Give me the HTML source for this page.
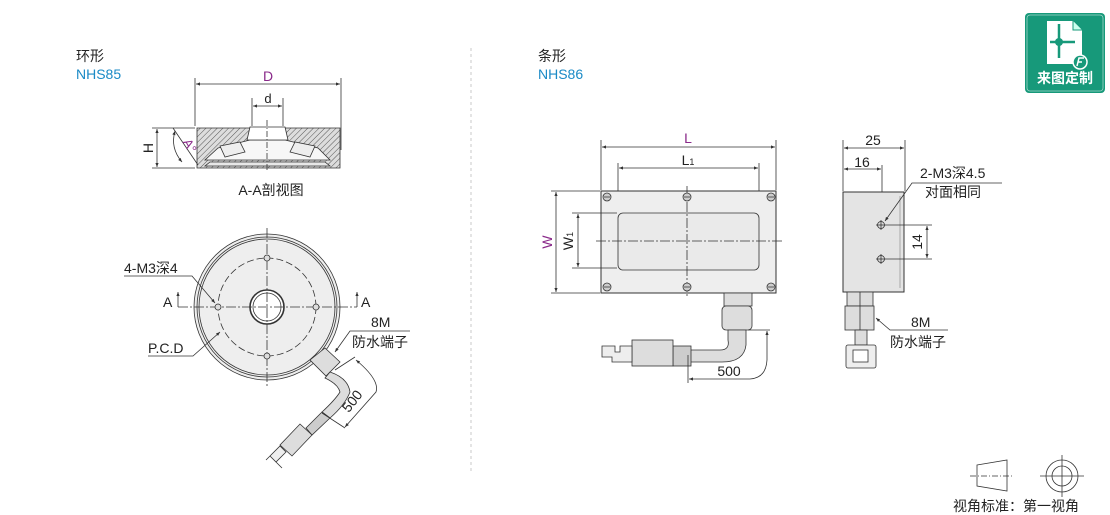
<!DOCTYPE html>
<html><head><meta charset="utf-8"><style>
html,body{margin:0;padding:0;background:#fff;}
svg{display:block;}
text{font-family:"Liberation Sans","Noto Sans CJK SC",sans-serif;fill:#222;}
</style></head><body>
<svg width="1110" height="515" viewBox="0 0 1110 515" xmlns="http://www.w3.org/2000/svg">
<defs>
<marker id="ar" viewBox="0 0 10 10" refX="10" refY="5" markerWidth="7" markerHeight="5" orient="auto-start-reverse"><path d="M0,1 L10,5 L0,9 z" fill="#333"/></marker>
<pattern id="hatch" width="4" height="4" patternUnits="userSpaceOnUse" patternTransform="rotate(45)"><rect width="4" height="4" fill="#ddd"/><line x1="0" y1="0" x2="0" y2="4" stroke="#555" stroke-width="1"/></pattern>
</defs>
<g stroke="#333" fill="none" stroke-width="0.8">

<line x1="471" y1="48" x2="471" y2="472" stroke="#bbb" stroke-dasharray="3,3"/>

<!-- Section view -->
<line x1="195" y1="78" x2="195" y2="126"/><line x1="341" y1="78" x2="341" y2="150"/>
<line x1="196" y1="84" x2="340" y2="84" marker-start="url(#ar)" marker-end="url(#ar)"/>
<line x1="252" y1="98" x2="252" y2="126"/><line x1="283" y1="98" x2="283" y2="126"/>
<line x1="253" y1="106" x2="282" y2="106" marker-start="url(#ar)" marker-end="url(#ar)"/>
<path d="M197,128 L340,128 L340,168 L197,168 Z" fill="url(#hatch)" stroke="#333"/>
<path d="M218,148 L250,140 L285,140 L318,148 L330,160 L205,160 Z" fill="#f7f7f7"/>
<path d="M250,127 L285,127 L288,140 L247,140 Z" fill="#fff"/>
<path d="M210,162 L325,162 L330,166 L205,166 Z" fill="#e8e8e8"/>
<path d="M220,146 L240,142 L245,152 L225,157 Z" fill="#eee"/>
<path d="M315,146 L295,142 L290,152 L310,157 Z" fill="#eee"/>
<line x1="267" y1="120" x2="267" y2="172" stroke-dasharray="6,2,1,2"/>
<line x1="152" y1="128" x2="195" y2="128"/><line x1="152" y1="168" x2="195" y2="168"/>
<line x1="157" y1="129" x2="157" y2="167" marker-start="url(#ar)" marker-end="url(#ar)"/>
<path d="M175,131 Q170,148 182,162" marker-start="url(#ar)" marker-end="url(#ar)"/>
<line x1="173" y1="128" x2="198" y2="165"/>

<!-- Circle view -->
<circle cx="267" cy="307" r="73" fill="#eee"/>
<circle cx="267" cy="307" r="70"/><circle cx="267" cy="307" r="68"/>
<circle cx="267" cy="307" r="49" stroke-dasharray="7,3"/>
<circle cx="267" cy="307" r="17" fill="#fff" stroke-width="1.6"/>
<circle cx="267" cy="307" r="14"/>
<line x1="267" y1="228" x2="267" y2="386" stroke-dasharray="10,2,2,2"/>
<line x1="178" y1="307" x2="357" y2="307" stroke-dasharray="10,2,2,2"/>
<g fill="#ddd"><circle cx="267" cy="258" r="3"/><circle cx="218" cy="307" r="3"/><circle cx="316" cy="307" r="3"/><circle cx="267" cy="356" r="3"/></g>
<line x1="178" y1="307" x2="178" y2="292" marker-end="url(#ar)"/>
<line x1="357" y1="307" x2="357" y2="292" marker-end="url(#ar)"/>
<polyline points="124,276 192,276 215,303" marker-end="url(#ar)"/>
<polyline points="148,356 193,356 220,332" marker-end="url(#ar)"/>
<polyline points="410,331 350,331 335,352" marker-end="url(#ar)"/>
<path d="M310,360 L325,348 L340,362 L326,376 Z" fill="#ddd"/>
<path d="M330,372 Q348,378 350,392 Q345,405 330,418 L322,412 Q335,400 340,392 Q338,384 325,378 Z" fill="#ddd"/>
<path d="M330,418 L312,435 L306,428 L322,412 Z" fill="#ccc"/>
<path d="M312,435 L292,456 L280,445 L300,424 Z" fill="#ddd"/>
<path d="M286,452 L276,462 L270,456 L280,446 Z M276,462 L282,468 M270,456 L266,460" fill="#eee"/>
<line x1="335" y1="370" x2="355" y2="357"/>
<line x1="322" y1="413" x2="345" y2="428"/>
<path d="M356,360 Q380,380 376,392 L345,427" marker-start="url(#ar)" marker-end="url(#ar)"/>

<!-- Bar view -->
<line x1="601" y1="140" x2="601" y2="190"/><line x1="776" y1="140" x2="776" y2="190"/>
<line x1="602" y1="147" x2="775" y2="147" marker-start="url(#ar)" marker-end="url(#ar)"/>
<line x1="618" y1="163" x2="618" y2="212"/><line x1="759" y1="163" x2="759" y2="212"/>
<line x1="619" y1="168" x2="758" y2="168" marker-start="url(#ar)" marker-end="url(#ar)"/>
<rect x="601" y="191" width="175" height="102" fill="#eee" stroke-width="1"/>
<rect x="618" y="213" width="141" height="57" rx="5" fill="#eaeaea"/>
<line x1="687" y1="186" x2="687" y2="298" stroke-dasharray="10,2,2,2"/>
<line x1="596" y1="241" x2="782" y2="241" stroke-dasharray="10,2,2,2"/>
<g fill="#ccc"><circle cx="607" cy="197" r="4"/><circle cx="687" cy="197" r="4"/><circle cx="771" cy="197" r="4"/><circle cx="607" cy="287" r="4"/><circle cx="687" cy="287" r="4"/><circle cx="771" cy="287" r="4"/></g>
<g><path d="M604,197h6M684,197h6M768,197h6M604,287h6M684,287h6M768,287h6"/></g>
<line x1="551" y1="191" x2="600" y2="191"/><line x1="551" y1="293" x2="600" y2="293"/>
<line x1="556" y1="192" x2="556" y2="292" marker-start="url(#ar)" marker-end="url(#ar)"/>
<line x1="572" y1="213" x2="617" y2="213"/><line x1="572" y1="268" x2="617" y2="268"/>
<line x1="578" y1="214" x2="578" y2="267" marker-start="url(#ar)" marker-end="url(#ar)"/>
<rect x="724" y="293" width="28" height="13" fill="#ddd"/>
<rect x="722" y="306" width="30" height="24" rx="4" fill="#ddd"/>
<path d="M728,330 L746,330 L746,345 Q744,362 722,362 L690,362 L690,350 L720,350 Q730,350 728,340 Z" fill="#ddd"/>
<rect x="673" y="346" width="18" height="20" fill="#ccc"/>
<rect x="632" y="340" width="41" height="26" fill="#ddd"/>
<path d="M602,346 L615,346 L615,352 L620,352 L620,346 L632,346 L632,362 L612,362 L612,357 L602,357 Z" fill="#eee"/>
<line x1="688" y1="355" x2="688" y2="383"/>
<line x1="748" y1="330" x2="770" y2="330"/>
<path d="M689,379 L750,379 Q766,378 767,360 L767,331" marker-start="url(#ar)" marker-end="url(#ar)"/>

<!-- Side view -->
<line x1="843" y1="140" x2="843" y2="191"/><line x1="905" y1="140" x2="905" y2="191"/>
<line x1="844" y1="148" x2="904" y2="148" marker-start="url(#ar)" marker-end="url(#ar)"/>
<line x1="882" y1="165" x2="882" y2="222"/>
<line x1="844" y1="169" x2="881" y2="169" marker-start="url(#ar)" marker-end="url(#ar)"/>
<rect x="843" y="192" width="61" height="100" fill="#e4e4e4" stroke-width="1"/>
<line x1="900" y1="196" x2="900" y2="288" stroke="#999"/>
<g fill="#ddd"><circle cx="881" cy="225" r="3.5"/><circle cx="881" cy="259" r="3.5"/></g>
<line x1="876" y1="225" x2="886" y2="225"/><line x1="876" y1="259" x2="886" y2="259"/>
<line x1="881" y1="220" x2="881" y2="230"/><line x1="881" y1="254" x2="881" y2="264"/>
<line x1="886" y1="225" x2="932" y2="225"/><line x1="886" y1="259" x2="932" y2="259"/>
<line x1="927" y1="226" x2="927" y2="258" marker-start="url(#ar)" marker-end="url(#ar)"/>
<polyline points="1002,183 912,183 885,221" marker-end="url(#ar)"/>
<rect x="847" y="292" width="26" height="14" fill="#ddd"/>
<rect x="845" y="306" width="29" height="24" fill="#ddd"/>
<line x1="860" y1="292" x2="860" y2="330"/>
<rect x="855" y="330" width="12" height="15" fill="#ddd"/>
<rect x="846" y="345" width="30" height="23" rx="2" fill="#eee"/>
<rect x="853" y="350" width="15" height="12" fill="#fff"/>
<polyline points="948,330 890,330 876,318" marker-end="url(#ar)"/>

<!-- bottom right -->
<path d="M977,465 L1007,460 L1007,491 L977,486 Z"/>
<line x1="970" y1="476" x2="1013" y2="476" stroke-dasharray="6,2,1,2"/>
<circle cx="1062" cy="476" r="16"/><circle cx="1062" cy="476" r="10"/>
<line x1="1040" y1="476" x2="1084" y2="476"/><line x1="1062" y1="455" x2="1062" y2="497"/>
</g>

<!-- logo -->
<rect x="1025" y="13" width="80" height="80" rx="4" fill="#17997a"/>
<rect x="1027" y="15" width="76" height="76" rx="3" fill="none" stroke="#fff" stroke-width="0.8" opacity="0.6"/>
<path d="M1047,21 L1073,21 L1082,30 L1082,64 L1047,64 Z" fill="#fff"/>
<path d="M1073,21 L1073,30 L1082,30" fill="#cfe" stroke="#17997a"/>
<line x1="1059" y1="24" x2="1059" y2="58" stroke="#17997a" stroke-width="2.5"/>
<line x1="1050" y1="42" x2="1075" y2="42" stroke="#17997a" stroke-width="2.5"/>
<circle cx="1059" cy="42" r="4" fill="#17997a"/>
<circle cx="1080" cy="62" r="7" fill="#17997a" stroke="#fff" stroke-width="1.5"/>
<path d="M1077,66 L1079,58 L1084,58 M1078,62 L1082,62" stroke="#fff" stroke-width="1.5" fill="none"/>
<text x="1065" y="83" font-size="14" font-weight="bold" text-anchor="middle" style="fill:#fff">来图定制</text>

<!-- texts -->
<text x="76" y="61" font-size="14">环形</text>
<text x="76" y="79" font-size="14" style="fill:#1a8ac6">NHS85</text>
<text x="538" y="61" font-size="14">条形</text>
<text x="538" y="79" font-size="14" style="fill:#1a8ac6">NHS86</text>
<text x="268" y="81" font-size="14" text-anchor="middle" style="fill:#8a2a8a">D</text>
<text x="268" y="103" font-size="13" text-anchor="middle">d</text>
<text x="153" y="148" font-size="14" text-anchor="middle" transform="rotate(-90 153 148)">H</text>
<text x="186" y="148" font-size="13" text-anchor="middle" transform="rotate(60 186 148)" style="fill:#8a2a8a">A°</text>
<text x="271" y="195" font-size="14" text-anchor="middle">A-A剖视图</text>
<text x="124" y="273" font-size="14">4-M3深4</text>
<text x="163" y="307" font-size="14">A</text>
<text x="361" y="307" font-size="14">A</text>
<text x="148" y="353" font-size="14">P.C.D</text>
<text x="371" y="327" font-size="14">8M</text>
<text x="352" y="347" font-size="14">防水端子</text>
<text x="356" y="404" font-size="14" text-anchor="middle" transform="rotate(-52 356 404)">500</text>
<text x="688" y="143" font-size="14" text-anchor="middle" style="fill:#8a2a8a">L</text>
<text x="688" y="165" font-size="14" text-anchor="middle">L<tspan font-size="9">1</tspan></text>
<text x="552" y="242" font-size="14" text-anchor="middle" transform="rotate(-90 552 242)" style="fill:#8a2a8a">W</text>
<text x="573" y="241" font-size="14" text-anchor="middle" transform="rotate(-90 573 241)">W<tspan font-size="9">1</tspan></text>
<text x="729" y="376" font-size="14" text-anchor="middle">500</text>
<text x="873" y="145" font-size="14" text-anchor="middle">25</text>
<text x="862" y="167" font-size="14" text-anchor="middle">16</text>
<text x="920" y="178" font-size="14">2-M3深4.5</text>
<text x="925" y="197" font-size="14">对面相同</text>
<text x="922" y="242" font-size="14" text-anchor="middle" transform="rotate(-90 922 242)">14</text>
<text x="911" y="327" font-size="14">8M</text>
<text x="890" y="347" font-size="14">防水端子</text>
<text x="953" y="511" font-size="14">视角标准：第一视角</text>
</svg>
</body></html>
